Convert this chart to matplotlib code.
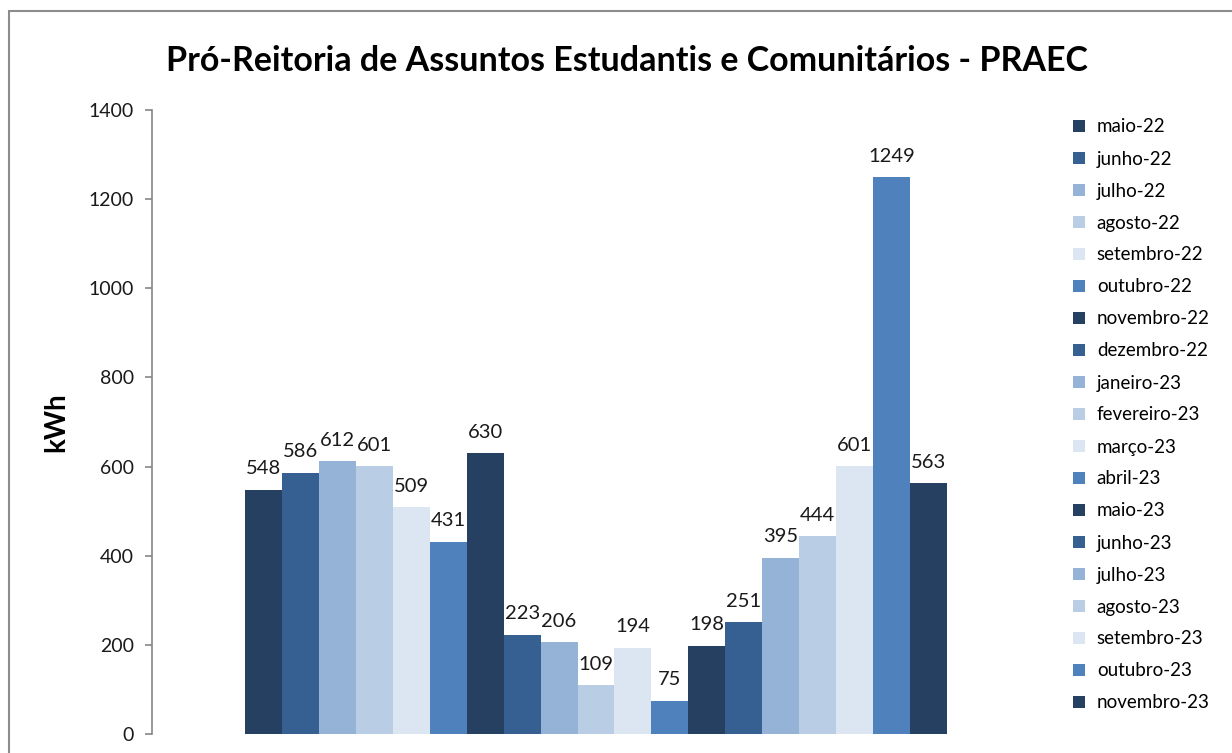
import matplotlib.pyplot as plt
from matplotlib.lines import Line2D
from matplotlib.patches import Rectangle

plt.rcParams['font.family'] = ['Lato', 'DejaVu Sans']

# meses e consumo (kWh)
meses = ['maio-22', 'junho-22', 'julho-22', 'agosto-22', 'setembro-22', 'outubro-22',
         'novembro-22', 'dezembro-22', 'janeiro-23', 'fevereiro-23', 'março-23', 'abril-23',
         'maio-23', 'junho-23', 'julho-23', 'agosto-23', 'setembro-23', 'outubro-23',
         'novembro-23']
consumo = [548, 586, 612, 601, 509, 431, 630, 223, 206, 109, 194, 75,
           198, 251, 395, 444, 601, 1249, 563]

paleta = ['#254061', '#376092', '#95B3D7', '#B9CDE5', '#DCE6F2', '#4F81BD']
cores = [paleta[i % len(paleta)] for i in range(len(meses))]

fig = plt.figure(figsize=(12.32, 7.53), dpi=100)
ax = fig.add_axes([152 / 1232, 19 / 753, (1040 - 152) / 1232, (734 - 110) / 753])

x = list(range(len(meses)))
bars = ax.bar(x, consumo, width=1.0, color=cores, linewidth=0)

for xi, v in zip(x, consumo):
    ax.annotate(str(v), (xi, v), xytext=(0, 9), textcoords='offset points',
                ha='center', va='bottom', fontsize=14.5, color='#1a1a1a')

ax.set_ylim(0, 1400)
ax.set_yticks(range(0, 1401, 200))
ax.set_xlim(-3.03, 21.03)
ax.set_xticks([])
for s in ['top', 'right', 'bottom']:
    ax.spines[s].set_visible(False)
ax.spines['left'].set_color('#868686')
ax.spines['left'].set_linewidth(1.2)
ax.tick_params(axis='y', direction='out', length=5, color='#868686', width=1.2,
               labelsize=14, pad=8, labelcolor='#1a1a1a')
ax.set_ylabel('kWh', fontsize=20, fontweight='bold', labelpad=14)

fig.suptitle('Pró-Reitoria de Assuntos Estudantis e Comunitários - PRAEC',
             x=0.509, y=0.94, fontsize=24.5, fontweight='bold')

handles = [Line2D([], [], marker='s', linestyle='none', markersize=9,
                  markerfacecolor=c, markeredgewidth=0) for c in cores]
fig.legend(handles, meses, loc='upper left', bbox_to_anchor=(1063 / 1232, 1 - 111 / 753),
           frameon=False, fontsize=13.5, handlelength=0.9, handletextpad=0.5,
           labelspacing=0.80, borderaxespad=0)

# moldura do gráfico
fig.patches.append(Rectangle((9 / 1232, -0.05), 1.2, 1 - 11 / 753 + 0.05,
                             transform=fig.transFigure, fill=False,
                             edgecolor='#8c8c8c', linewidth=1.5))

fig.savefig('out.png', dpi=100)
